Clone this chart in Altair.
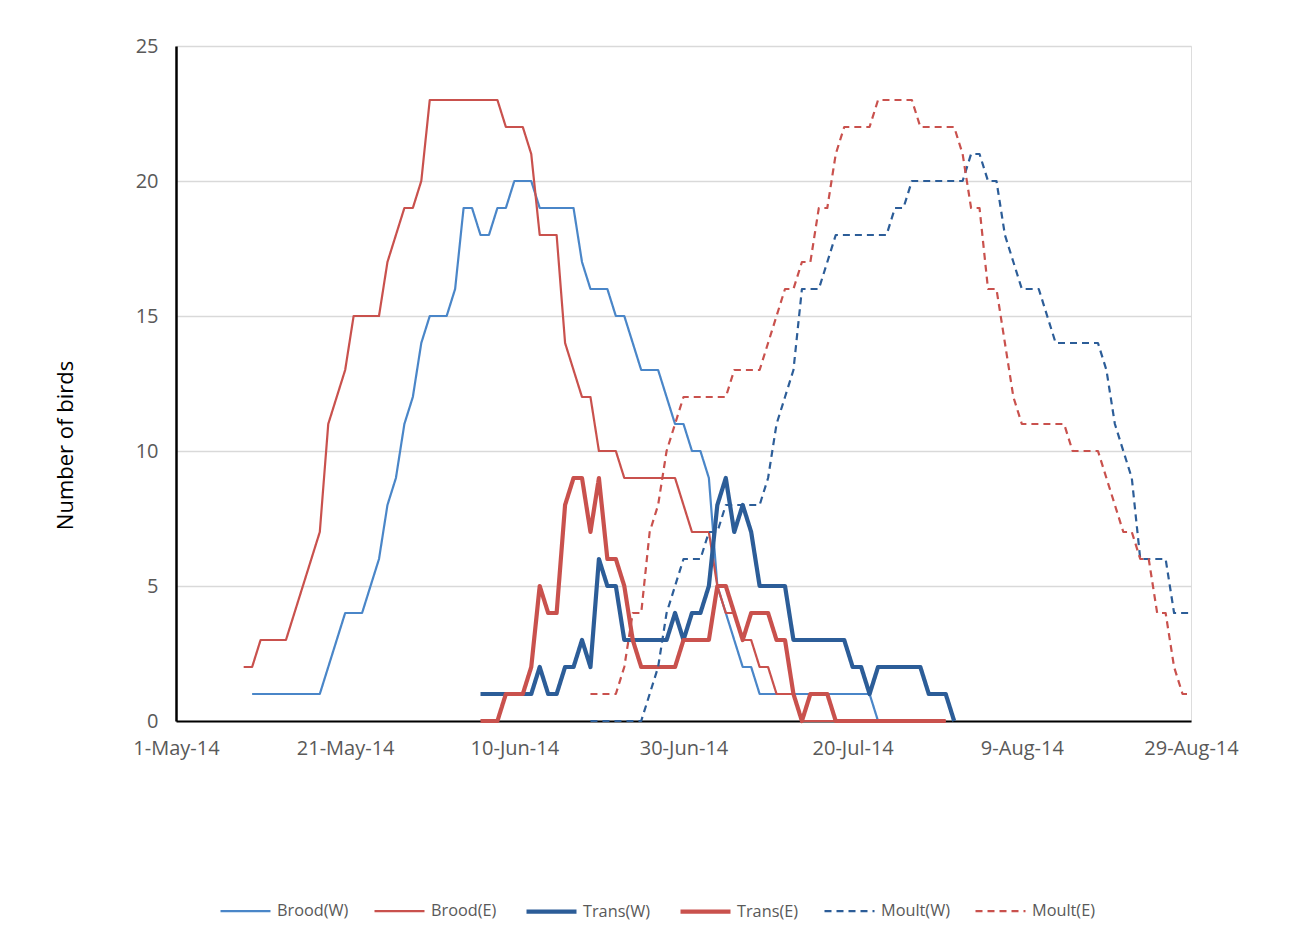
import altair as alt
import pandas as pd

# ---------------- data ----------------
TICK_LABELS = ["1-May-14", "21-May-14", "10-Jun-14", "30-Jun-14",
               "20-Jul-14", "9-Aug-14", "29-Aug-14"]          # every 20 days from 1-May-14
SERIES = ["Brood(W)", "Brood(E)", "Trans(W)", "Trans(E)", "Moult(W)", "Moult(E)"]

# first day index (days after 1-May-14) of each series, then daily counts
brood_w_start = 9
brood_w = [1, 1, 1, 1, 1, 1, 1, 1, 1,
           2, 3, 4, 4, 4, 5, 6, 8, 9, 11, 12, 14, 15, 15, 15, 16,
           19, 19, 18, 18, 19, 19, 20, 20, 20, 19, 19, 19, 19, 19,
           17, 16, 16, 16, 15, 15, 14, 13, 13, 13, 12, 11, 11, 10, 10, 9, 5, 4, 3, 2, 2,
           1, 1, 1, 1, 1, 1, 1, 1, 1, 1, 1, 1, 1, 1,
           0]

brood_e_start = 8
brood_e = [2, 2, 3, 3, 3, 3, 4, 5, 6, 7,
           11, 12, 13, 15, 15, 15, 15, 17, 18, 19, 19, 20,
           23, 23, 23, 23, 23, 23, 23, 23, 23,
           22, 22, 22, 21, 18, 18, 18,
           14, 13, 12, 12, 10, 10, 10, 9, 9, 9, 9, 9, 9, 9,
           8, 7, 7, 7, 5, 4, 4, 3, 3, 2, 2, 1, 1, 1,
           0, 0, 0, 0, 0, 0, 0, 0, 0, 0, 0, 0, 0, 0, 0, 0, 0, 0]

trans_w_start = 36
trans_w = [1, 1, 1, 1, 1, 1, 1,
           2, 1, 1, 2, 2, 3, 2,
           6, 5, 5, 3, 3, 3, 3, 3, 3,
           4, 3, 4, 4, 5, 8, 9, 7, 8, 7,
           5, 5, 5, 5,
           3, 3, 3, 3, 3, 3, 3,
           2, 2, 1,
           2, 2, 2, 2, 2, 2,
           1, 1, 1,
           0]

trans_e_start = 36
trans_e = [0, 0, 0,
           1, 1, 1,
           2, 5, 4, 4, 8, 9, 9, 7, 9, 6, 6, 5,
           3, 2, 2, 2, 2, 2,
           3, 3, 3, 3,
           5, 5, 4, 3, 4, 4, 4, 3, 3, 1,
           0, 1, 1, 1,
           0, 0, 0, 0, 0, 0, 0, 0, 0, 0, 0, 0, 0, 0]

moult_w_start = 49
moult_w = [0, 0, 0, 0, 0, 0, 0,
           1, 2, 4, 5, 6, 6, 6, 7, 7,
           8, 8, 8, 8, 8,
           9, 11, 12, 13,
           16, 16, 16,
           17, 18, 18, 18, 18, 18, 18, 18,
           19, 19,
           20, 20, 20, 20, 20, 20, 20,
           21, 21,
           20, 20, 18, 17, 16, 16, 16, 15,
           14, 14, 14, 14, 14, 14,
           13, 11, 10, 9,
           6, 6, 6, 6,
           4, 4, 4]

moult_e_start = 49
moult_e = [1, 1, 1, 1,
           2, 4, 4, 7, 8, 10, 11, 12,
           12, 12, 12, 12, 12,
           13, 13, 13, 13,
           14, 15, 16, 16, 17, 17, 19, 19,
           21,
           22, 22, 22, 22,
           23, 23, 23, 23, 23,
           22, 22, 22, 22, 22,
           21, 19, 19, 16, 16, 14, 12,
           11, 11, 11, 11, 11, 11,
           10, 10, 10, 10,
           9, 8, 7, 7, 6, 6, 4, 4, 2, 1, 1]

COLORS = ["#4A86C8", "#C9514D", "#2C5D98", "#C9514D", "#2C5D98", "#C9514D"]
WIDTHS = [2.2, 2.2, 4.2, 4.2, 2.2, 2.2]
DASHES = [[1, 0], [1, 0], [1, 0], [1, 0], [7, 5], [7, 5]]

# ---------------- table ----------------
rows = []
for name, start, vals in [
    ("Brood(W)", brood_w_start, brood_w),
    ("Brood(E)", brood_e_start, brood_e),
    ("Trans(W)", trans_w_start, trans_w),
    ("Trans(E)", trans_e_start, trans_e),
    ("Moult(W)", moult_w_start, moult_w),
    ("Moult(E)", moult_e_start, moult_e),
]:
    for i, v in enumerate(vals):
        rows.append({"series": name, "day": start + i, "birds": v})
df = pd.DataFrame(rows)

FONT = "Open Sans, Lato, sans-serif"
label_expr = "[" + ",".join("'%s'" % t for t in TICK_LABELS) + "][round(datum.value/20)]"

leg = alt.Legend(
    title=None, orient="none", legendX=42, legendY=838,
    direction="horizontal", columns=6, columnPadding=21,
    symbolType="stroke", symbolSize=2500, labelOffset=4,
    labelFont=FONT, labelFontSize=16.3, labelColor="#595959", labelLimit=300,
)

chart = alt.Chart(df).mark_line(strokeJoin="round", strokeCap="butt").encode(
    x=alt.X("day:Q",
            scale=alt.Scale(domain=[0, 120], nice=False, zero=False),
            axis=alt.Axis(values=list(range(0, 121, 20)), labelExpr=label_expr,
                          title=None, grid=False, ticks=False,
                          domainColor="black", domainWidth=2,
                          labelFont=FONT, labelFontSize=20, labelColor="#595959",
                          labelPadding=17, labelOverlap=False, labelFlush=False)),
    y=alt.Y("birds:Q",
            scale=alt.Scale(domain=[0, 25], nice=False),
            axis=alt.Axis(values=[0, 5, 10, 15, 20, 25], title="Number of birds",
                          grid=True, gridColor="#D9D9D9", gridWidth=1.3,
                          ticks=False, domainColor="black", domainWidth=2.5,
                          labelFont=FONT, labelFontSize=20, labelColor="#595959",
                          labelPadding=18,
                          titleFont=FONT, titleFontSize=22, titleFontWeight="normal",
                          titleColor="black", titleX=-111, titleY=399,
                          titleAlign="center", titleBaseline="middle")),
    color=alt.Color("series:N", scale=alt.Scale(domain=SERIES, range=COLORS),
                    sort=SERIES, legend=leg),
    strokeWidth=alt.StrokeWidth("series:N",
                                scale=alt.Scale(type="ordinal", domain=SERIES, range=WIDTHS),
                                sort=SERIES, legend=leg),
    strokeDash=alt.StrokeDash("series:N", scale=alt.Scale(domain=SERIES, range=DASHES),
                              sort=SERIES, legend=leg),
    order=alt.Order("day:Q"),
).properties(
    width=1015, height=675,
    autosize=alt.AutoSizeParams(type="none"),
    padding={"left": 168, "top": 38, "right": 90, "bottom": 210},
).configure_view(stroke=None).configure(background="white")

chart.save("out.html", embed_options={"renderer": "svg", "actions": False})
